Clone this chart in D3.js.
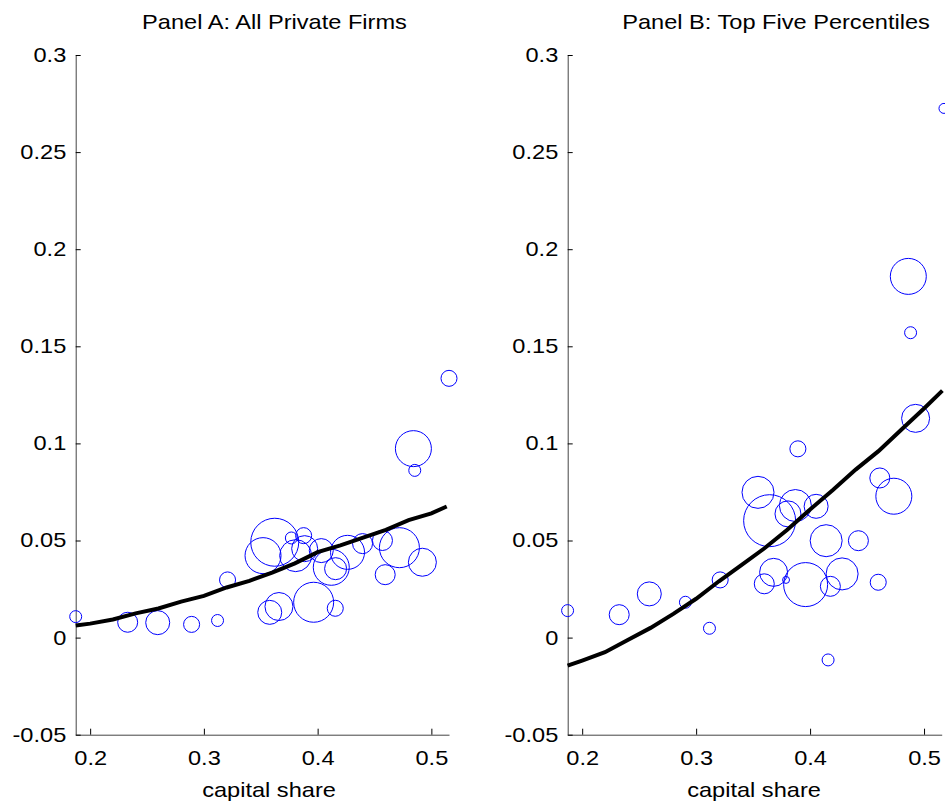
<!DOCTYPE html>
<html>
<head>
<meta charset="utf-8">
<script src="https://cdn.jsdelivr.net/npm/d3@7"></script>
<style>
  body { margin: 0; background: #fff; }
  svg { display: block; }
  text { font-family: "Liberation Sans", Arial, sans-serif; fill: #000; }
  .domain { stroke: #444; }
  .tick line { stroke: #000; }
  .tick text { font-size: 20px; }
</style>
</head>
<body>
<div id="chart"></div>
<script>
// Panel A: all private firms (x = capital share, y = value, w = bubble weight)
const panelAX = [0.1873, 0.233, 0.2594, 0.2892, 0.312, 0.3208, 0.3623, 0.352, 0.3769, 0.3877,
  0.3807, 0.3886, 0.4032, 0.412, 0.4158, 0.4263, 0.4395, 0.457, 0.4719, 0.4921,
  0.4594, 0.3579, 0.366, 0.3965, 0.4155, 0.4842, 0.4854, 0.5155];
const panelAY = [0.0108, 0.0079, 0.0077, 0.0068, 0.0088, 0.0297, 0.0491, 0.0422, 0.0513, 0.0525,
  0.0422, 0.0458, 0.0448, 0.0362, 0.0355, 0.0439, 0.0484, 0.05, 0.0463, 0.0388,
  0.0324, 0.013, 0.016, 0.0182, 0.0151, 0.0973, 0.0861, 0.1335];
const panelAW = [5.3, 14.8, 21.3, 9.5, 5.3, 9.5, 85.2, 47.9, 5.3, 9.5,
  37.9, 25, 21.3, 47.9, 17.9, 42.8, 14.8, 14.8, 59.2, 29,
  14.8, 21.3, 29, 59.2, 9.5, 47.9, 5.3, 9.5];

// Panel A fitted curve
const fitAX = [0.1873, 0.2, 0.22, 0.24, 0.26, 0.28, 0.3, 0.32, 0.34, 0.36,
  0.38, 0.4, 0.42, 0.44, 0.46, 0.48, 0.5, 0.5135];
const fitAY = [0.0062, 0.0072, 0.0093, 0.0125, 0.015, 0.0185, 0.0215, 0.0258, 0.0292, 0.0335,
  0.0382, 0.044, 0.0475, 0.0515, 0.0555, 0.0605, 0.064, 0.0675];

// Panel B: top five percentiles
const panelBX = [0.1872, 0.2325, 0.2589, 0.2906, 0.3117, 0.3211, 0.3543, 0.3645, 0.3871, 0.3806,
  0.4053, 0.4141, 0.4424, 0.368, 0.3598, 0.3789, 0.3961, 0.4178, 0.4281, 0.4158,
  0.4612, 0.4735, 0.4598, 0.4862, 0.4882, 0.4926, 0.5175, 0.3893];
const panelBY = [0.0139, 0.0118, 0.0225, 0.0182, 0.0048, 0.0297, 0.0748, 0.0602, 0.068, 0.0637,
  0.0676, 0.0499, 0.0499, 0.0336, 0.0277, 0.0297, 0.0273, 0.0264, 0.0328, -0.0115,
  0.0822, 0.0728, 0.0285, 0.186, 0.157, 0.1129, 0.2725, 0.0972];
const panelBW = [5.3, 14.8, 21.3, 5.3, 5.3, 9.5, 37.9, 100, 37.9, 25,
  21.3, 37.9, 14.8, 29, 14.8, 1.8, 71.6, 14.8, 37.9, 5.3,
  14.8, 47.9, 9.5, 47.9, 5.3, 29, 3.7, 9.5];

// Panel B fitted curve
const fitBX = [0.1872, 0.2, 0.22, 0.24, 0.26, 0.28, 0.3, 0.32, 0.34, 0.36,
  0.38, 0.4, 0.42, 0.44, 0.46, 0.48, 0.5, 0.5161];
const fitBY = [-0.0144, -0.0118, -0.0075, -0.0012, 0.005, 0.0122, 0.02, 0.029, 0.0375, 0.046,
  0.0555, 0.066, 0.076, 0.0865, 0.096, 0.107, 0.118, 0.1272];

const xTicks = [0.2, 0.3, 0.4, 0.5];
const yTicks = [-0.05, 0, 0.05, 0.1, 0.15, 0.2, 0.25, 0.3];
const titles = ["Panel A: All Private Firms", "Panel B: Top Five Percentiles"];
const xLabel = "capital share";

const width = 945, height = 808;
const svg = d3.select("#chart").append("svg").attr("width", width).attr("height", height);

const plotTop = 55, plotBottom = 734.7;
const stretch = 1.18; // text in the original is a little wide
const panels = [
  { left: 75.7, right: 449, titleX: 274.5, labelX: 269, x: panelAX, y: panelAY, w: panelAW, fx: fitAX, fy: fitAY, title: titles[0] },
  { left: 567.7, right: 941.7, titleX: 776, labelX: 754, x: panelBX, y: panelBY, w: panelBW, fx: fitBX, fy: fitBY, title: titles[1] },
];

const radius = d3.scaleSqrt().domain([0, 100]).range([0, 26]);
const fmt = (d) => String(+d.toFixed(2));

const wideText = (sel, x, y, str) =>
  sel.append("text")
    .attr("transform", `translate(${x},${y}) scale(${stretch},1)`)
    .attr("text-anchor", "middle")
    .attr("font-size", 20)
    .text(str);

panels.forEach((p) => {
  const x = d3.scaleLinear().domain([0.1873, 0.5155]).range([p.left, p.right]);
  const y = d3.scaleLinear().domain([-0.05, 0.3]).range([plotBottom, plotTop]);
  const g = svg.append("g");

  // Axes, ticks pointing inward
  g.append("g")
    .attr("transform", `translate(0,${plotBottom})`)
    .call(d3.axisBottom(x).tickValues(xTicks).tickFormat(fmt).tickSizeInner(-6).tickSizeOuter(0).tickPadding(13))
    .call((a) => a.selectAll("text").attr("dy", "0.85em").attr("transform", `scale(${stretch},1)`));
  g.append("g")
    .attr("transform", `translate(${p.left},0)`)
    .call(d3.axisLeft(y).tickValues(yTicks).tickFormat(fmt).tickSizeInner(-5).tickSizeOuter(0).tickPadding(8))
    .call((a) => a.selectAll("text").attr("transform", `scale(${stretch},1)`));

  // Bubbles
  const pts = p.x.map((v, i) => ({ x: v, y: p.y[i], w: p.w[i] }));
  g.append("g")
    .selectAll("circle")
    .data(pts)
    .join("circle")
    .attr("cx", (d) => x(d.x))
    .attr("cy", (d) => y(d.y))
    .attr("r", (d) => radius(d.w))
    .attr("fill", "none")
    .attr("stroke", "#0000ff")
    .attr("stroke-width", 1);

  // Fitted line
  const line = d3.line().x((d) => x(d[0])).y((d) => y(d[1]));
  g.append("path")
    .datum(p.fx.map((v, i) => [v, p.fy[i]]))
    .attr("d", line)
    .attr("fill", "none")
    .attr("stroke", "#000")
    .attr("stroke-width", 4);

  // Title and x label
  wideText(g, p.titleX, 29, p.title);
  wideText(g, p.labelX, 797, xLabel);
});
</script>
</body>
</html>
